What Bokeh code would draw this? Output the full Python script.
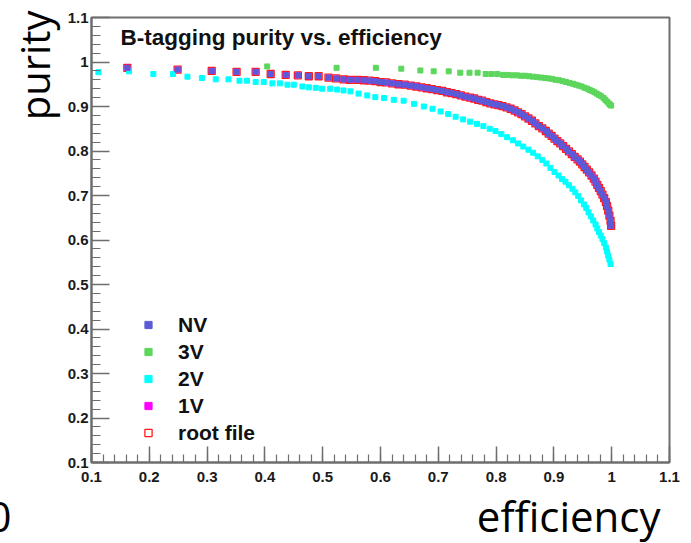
import math
from bokeh.plotting import figure
from bokeh.models import Label, Legend, LegendItem, FixedTicker, Title
from bokeh.embed import file_html
from bokeh.resources import INLINE

# ---------------- data ----------------
nv_eff = [0.162, 0.249, 0.308, 0.351, 0.384, 0.410, 0.436, 0.457, 0.476, 0.493,
          0.510, 0.523, 0.536, 0.547, 0.560, 0.571, 0.581, 0.591, 0.600, 0.610,
          0.620, 0.631, 0.642, 0.652, 0.662, 0.671, 0.680, 0.689, 0.698, 0.707,
          0.715, 0.723, 0.731, 0.739, 0.747, 0.755, 0.762, 0.769, 0.776, 0.783,
          0.790, 0.797, 0.804, 0.811, 0.818, 0.825, 0.832, 0.838, 0.844, 0.850,
          0.856, 0.862, 0.868, 0.874, 0.880, 0.886, 0.891, 0.896, 0.901, 0.906,
          0.911, 0.916, 0.921, 0.926, 0.931, 0.936, 0.941, 0.945, 0.949, 0.953,
          0.957, 0.961, 0.965, 0.969, 0.972, 0.975, 0.978, 0.981, 0.984, 0.987,
          0.990, 0.992, 0.994, 0.996, 0.998, 0.999]
nv_pur = [0.987, 0.983, 0.980, 0.978, 0.978, 0.973, 0.971, 0.970, 0.968, 0.968,
          0.965, 0.963, 0.961, 0.960, 0.960, 0.959, 0.958, 0.957, 0.955, 0.954,
          0.952, 0.950, 0.949, 0.947, 0.945, 0.943, 0.941, 0.939, 0.937, 0.935,
          0.932, 0.930, 0.928, 0.925, 0.922, 0.920, 0.918, 0.915, 0.913, 0.910,
          0.907, 0.905, 0.903, 0.901, 0.898, 0.895, 0.891, 0.887, 0.883, 0.878,
          0.873, 0.868, 0.862, 0.856, 0.851, 0.845, 0.839, 0.834, 0.828, 0.822,
          0.817, 0.811, 0.805, 0.799, 0.793, 0.787, 0.781, 0.776, 0.770, 0.764,
          0.758, 0.752, 0.745, 0.738, 0.731, 0.724, 0.717, 0.710, 0.702, 0.694,
          0.685, 0.676, 0.666, 0.655, 0.643, 0.632]

v3_eff = [0.404, 0.524, 0.592, 0.636, 0.669, 0.692, 0.718, 0.738, 0.754, 0.768,
          0.782, 0.792, 0.802, 0.812, 0.820, 0.828, 0.836, 0.843, 0.850, 0.857,
          0.864, 0.871, 0.878, 0.885, 0.891, 0.897, 0.903, 0.909, 0.915, 0.921,
          0.927, 0.933, 0.938, 0.943, 0.948, 0.953, 0.958, 0.962, 0.966, 0.970,
          0.974, 0.978, 0.982, 0.986, 0.989, 0.992, 0.995, 0.997, 0.999]
v3_pur = [0.990, 0.987, 0.987, 0.985, 0.981, 0.979, 0.979, 0.976, 0.976, 0.976,
          0.973, 0.973, 0.973, 0.971, 0.971, 0.970, 0.970, 0.969, 0.969, 0.968,
          0.967, 0.966, 0.965, 0.964, 0.963, 0.962, 0.960, 0.959, 0.957, 0.955,
          0.953, 0.951, 0.949, 0.947, 0.945, 0.942, 0.940, 0.937, 0.935, 0.932,
          0.929, 0.926, 0.923, 0.919, 0.915, 0.911, 0.907, 0.904, 0.902]

v2_eff = [0.112, 0.165, 0.207, 0.241, 0.266, 0.291, 0.315, 0.337, 0.356, 0.369,
          0.384, 0.398, 0.413, 0.426, 0.439, 0.450, 0.465, 0.476, 0.488, 0.499,
          0.513, 0.525, 0.536, 0.548, 0.562, 0.577, 0.591, 0.606, 0.623, 0.640,
          0.658, 0.675, 0.690, 0.704, 0.717, 0.730, 0.743, 0.755, 0.767, 0.778,
          0.789, 0.799, 0.809, 0.819, 0.829, 0.838, 0.847, 0.856, 0.864, 0.872,
          0.880, 0.887, 0.894, 0.901, 0.908, 0.914, 0.920, 0.926, 0.932, 0.937,
          0.942, 0.947, 0.952, 0.956, 0.960, 0.964, 0.968, 0.972, 0.975, 0.978,
          0.981, 0.984, 0.987, 0.990, 0.992, 0.994, 0.996, 0.998]
v2_pur = [0.977, 0.979, 0.973, 0.973, 0.967, 0.964, 0.961, 0.961, 0.958, 0.958,
          0.955, 0.955, 0.952, 0.952, 0.949, 0.949, 0.945, 0.943, 0.942, 0.940,
          0.940, 0.938, 0.936, 0.934, 0.929, 0.925, 0.921, 0.919, 0.915, 0.913,
          0.906, 0.900, 0.895, 0.889, 0.883, 0.877, 0.871, 0.866, 0.861, 0.856,
          0.850, 0.845, 0.838, 0.831, 0.824, 0.817, 0.810, 0.803, 0.796, 0.788,
          0.780, 0.772, 0.762, 0.753, 0.745, 0.737, 0.731, 0.723, 0.715, 0.707,
          0.699, 0.689, 0.680, 0.672, 0.662, 0.653, 0.644, 0.635, 0.626, 0.618,
          0.610, 0.602, 0.593, 0.583, 0.574, 0.565, 0.556, 0.546]

# 1V and the root file lie exactly under the NV points
v1_eff = list(nv_eff)
v1_pur = list(nv_pur)
root_eff = list(nv_eff)
root_pur = list(nv_pur)

series_names = ["NV", "3V", "2V", "1V", "root file"]
tick_values = [0.1, 0.2, 0.3, 0.4, 0.5, 0.6, 0.7, 0.8, 0.9, 1.0, 1.1]
tick_labels = ["0.1", "0.2", "0.3", "0.4", "0.5", "0.6", "0.7", "0.8", "0.9", "1", "1.1"]
title_text = "B-tagging purity vs. efficiency"
x_title = "efficiency"
y_title = "purity"
corner_fragment = "0"   # partly cut-off character at the bottom-left corner of the slide

# ---------------- figure ----------------
FL, FR, FT, FB = 91, 669, 17, 462  # frame edges in canvas pixels
p = figure(width=691, height=543, x_range=(0.1, 1.1), y_range=(0.1, 1.1),
           output_backend="svg", toolbar_location=None,
           min_border_left=FL, min_border_right=691 - FR,
           min_border_top=FT, min_border_bottom=543 - FB)
p.grid.visible = False
p.outline_line_color = "#6e6e6e"
p.outline_line_width = 2
p.background_fill_color = "white"
p.border_fill_color = "white"

def dx(px):
    return 0.1 + (px - FL) / (FR - FL)

def dy(py):
    return 1.1 - (py - FT) / (FB - FT) * 1.0

minor = [round(0.1 + 0.02 * i, 2) for i in range(51)]
for ax, tin, tmin, stand in ((p.xaxis[0], 16, 8, 9), (p.yaxis[0], 18, 9, 3)):
    ax.ticker = FixedTicker(ticks=tick_values, minor_ticks=minor)
    ax.major_label_overrides = {v: s for v, s in zip(tick_values, tick_labels)}
    ax.major_tick_in = tin
    ax.major_tick_out = 0
    ax.minor_tick_in = tmin
    ax.minor_tick_out = 0
    ax.axis_line_color = "#6e6e6e"
    ax.axis_line_width = 2
    ax.major_tick_line_color = "#6e6e6e"
    ax.major_tick_line_width = 1.5
    ax.minor_tick_line_color = "#6e6e6e"
    ax.minor_tick_line_width = 1.2
    ax.major_label_text_font = "Liberation Sans"
    ax.major_label_text_font_style = "bold"
    ax.major_label_text_font_size = "15px"
    ax.major_label_text_color = "#1a1a1a"
    ax.major_label_standoff = stand

# ---------------- series ----------------
r_root = p.scatter(root_eff, root_pur, marker="square", size=7,
                   fill_alpha=0, line_color="#ff1a1a", line_width=1.3)
r_2v = p.scatter(v2_eff, v2_pur, marker="square", size=5,
                 fill_color="#00ffff", line_color="#00ffff")
r_3v = p.scatter(v3_eff, v3_pur, marker="square", size=5,
                 fill_color="#5cd65c", line_color="#5cd65c")
r_1v = p.scatter(v1_eff, v1_pur, marker="square", size=5,
                 fill_color="#ff00ff", line_color="#ff00ff")
r_nv = p.scatter(nv_eff, nv_pur, marker="square", size=5,
                 fill_color="#5b5bd6", line_color="#5b5bd6")

legend = Legend(items=[LegendItem(label=series_names[0], renderers=[r_nv]),
                       LegendItem(label=series_names[1], renderers=[r_3v]),
                       LegendItem(label=series_names[2], renderers=[r_2v]),
                       LegendItem(label=series_names[3], renderers=[r_1v]),
                       LegendItem(label=series_names[4], renderers=[r_root])],
                location=(48, 16), padding=0, margin=0, spacing=0,
                glyph_width=18, glyph_height=27, label_height=27,
                label_standoff=21,
                label_text_font="Liberation Sans", label_text_font_style="bold",
                label_text_font_size="21px", label_text_color="#111111",
                border_line_alpha=0, background_fill_alpha=0)
p.add_layout(legend)

# ---------------- texts ----------------
p.add_layout(Label(x=dx(120), y=dy(37), text=title_text,
                   text_font="Liberation Sans", text_font_style="bold",
                   text_font_size="22.5px", text_color="#111111",
                   text_baseline="middle", text_align="left"))

bottom_text = corner_fragment + "\u00a0" * 42 + "\u2006" + x_title
p.add_layout(Title(text=bottom_text, align="right", offset=9, standoff=0,
                   text_font="Open Sans", text_font_style="normal",
                   text_font_size="42px", text_color="#000000"), "below")
p.add_layout(Title(text=y_title, align="right", offset=-7, standoff=5,
                   text_font="Open Sans", text_font_style="normal",
                   text_font_size="40px", text_color="#000000"), "left")

open("out.html", "w").write(file_html(p, INLINE))
